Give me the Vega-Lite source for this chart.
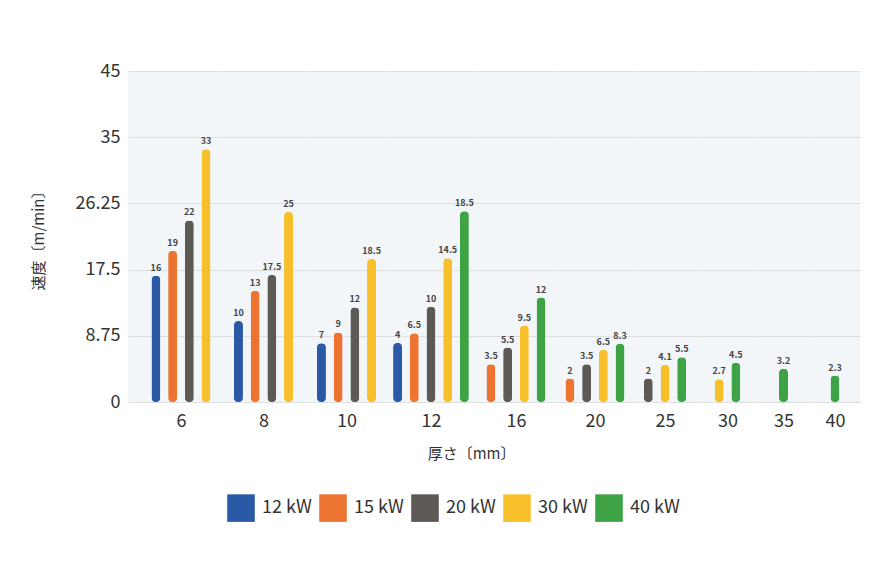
{
  "$schema": "https://vega.github.io/schema/vega-lite/v6.json",
  "background": "white",
  "padding": {"left": 31, "top": 62, "right": 20, "bottom": 20},
  "datasets": {
    "d": [
      {"t": "6", "p": "12 kW", "v": 16.7, "label": "16"},
      {"t": "6", "p": "15 kW", "v": 20.0, "label": "19"},
      {"t": "6", "p": "20 kW", "v": 24.0, "label": "22"},
      {"t": "6", "p": "30 kW", "v": 33.4, "label": "33"},
      {"t": "8", "p": "12 kW", "v": 10.7, "label": "10"},
      {"t": "8", "p": "15 kW", "v": 14.7, "label": "13"},
      {"t": "8", "p": "20 kW", "v": 16.8, "label": "17.5"},
      {"t": "8", "p": "30 kW", "v": 25.1, "label": "25"},
      {"t": "10", "p": "12 kW", "v": 7.75, "label": "7"},
      {"t": "10", "p": "15 kW", "v": 9.2, "label": "9"},
      {"t": "10", "p": "20 kW", "v": 12.5, "label": "12"},
      {"t": "10", "p": "30 kW", "v": 18.9, "label": "18.5"},
      {"t": "12", "p": "12 kW", "v": 7.8, "label": "4"},
      {"t": "12", "p": "15 kW", "v": 9.1, "label": "6.5"},
      {"t": "12", "p": "20 kW", "v": 12.6, "label": "10"},
      {"t": "12", "p": "30 kW", "v": 19.0, "label": "14.5"},
      {"t": "12", "p": "40 kW", "v": 25.2, "label": "18.5"},
      {"t": "16", "p": "15 kW", "v": 5.0, "label": "3.5"},
      {"t": "16", "p": "20 kW", "v": 7.2, "label": "5.5"},
      {"t": "16", "p": "30 kW", "v": 10.1, "label": "9.5"},
      {"t": "16", "p": "40 kW", "v": 13.8, "label": "12"},
      {"t": "20", "p": "15 kW", "v": 3.1, "label": "2"},
      {"t": "20", "p": "20 kW", "v": 5.0, "label": "3.5"},
      {"t": "20", "p": "30 kW", "v": 6.9, "label": "6.5"},
      {"t": "20", "p": "40 kW", "v": 7.7, "label": "8.3"},
      {"t": "25", "p": "20 kW", "v": 3.1, "label": "2"},
      {"t": "25", "p": "30 kW", "v": 4.9, "label": "4.1"},
      {"t": "25", "p": "40 kW", "v": 5.9, "label": "5.5"},
      {"t": "30", "p": "30 kW", "v": 3.0, "label": "2.7"},
      {"t": "30", "p": "40 kW", "v": 5.2, "label": "4.5"},
      {"t": "35", "p": "40 kW", "v": 4.4, "label": "3.2"},
      {"t": "40", "p": "40 kW", "v": 3.5, "label": "2.3"}
    ]
  },
  "data": {"name": "d"},
  "config": {
    "font": "Noto Sans CJK JP",
    "view": {"fill": "#f3f6f8", "stroke": null},
    "concat": {"spacing": 0},
    "axisY": {"grid": true, "gridColor": "#dcdedf", "domain": false, "ticks": false, "labelFontSize": 18, "labelColor": "#333333", "labelPadding": 8},
    "axisX": {"grid": false, "domain": false, "ticks": false, "labels": false, "titleFontSize": 18, "titleFontWeight": "normal", "titleColor": "#333333", "titlePadding": 10},
    "bar": {"width": 9, "cornerRadius": 4},
    "text": {"fontSize": 9, "fontWeight": "bold", "color": "#444444", "baseline": "bottom", "dy": -3},
    "legend": {"orient": "none", "direction": "horizontal", "legendX": 99, "legendY": 423, "symbolType": "square", "symbolSize": 760, "symbolStrokeWidth": 0, "labelFontSize": 18, "labelColor": "#333333", "labelOffset": 7, "columnPadding": 7, "title": null}
  },
  "vconcat": [
    {
      "title": {"text": "厚さ〔mm〕", "orient": "bottom", "anchor": "middle", "dx": 26, "fontSize": 15, "fontWeight": "normal", "color": "#333333", "offset": 17},
      "spacing": 0,
      "hconcat": [
        {
          "width": 94, "height": 331,
          "transform": [{"filter": "datum.t == '6'"}],
          "encoding": {
            "x": {"field": "p", "type": "nominal", "scale": {"paddingInner": 0, "paddingOuter": 0.814, "align": 0.72}, "axis": {"title": "6", "titleX": 53}},
            "y": {"field": "v", "type": "quantitative", "scale": {"domain": [0, 43.75]}, "axis": {"values": [0, 8.75, 17.5, 26.25, 35, 43.75], "labelExpr": "datum.value > 40 ? '45' : '' + datum.value", "title": "速度〔m/min〕", "titleFontSize": 15, "titleFontWeight": "normal", "titleColor": "#333333", "titlePadding": 29}}
          },
          "layer": [
            {"mark": "bar", "encoding": {"color": {"field": "p", "type": "nominal", "scale": {"domain": ["12 kW", "15 kW", "20 kW", "30 kW", "40 kW"], "range": ["#2a5aa6", "#ec7430", "#5d5954", "#f7bf2a", "#3da345"]}}}},
            {"mark": "text", "encoding": {"text": {"field": "label"}}}
          ]
        },
        {
          "width": 83, "height": 331,
          "transform": [{"filter": "datum.t == '8'"}],
          "encoding": {
            "x": {"field": "p", "type": "nominal", "scale": {"paddingInner": 0, "paddingOuter": 0.485}, "axis": {"title": "8"}},
            "y": {"field": "v", "type": "quantitative", "scale": {"domain": [0, 43.75]}, "axis": {"values": [0, 8.75, 17.5, 26.25, 35, 43.75], "labels": false, "title": null}}
          },
          "layer": [
            {"mark": "bar", "encoding": {"color": {"field": "p", "type": "nominal", "scale": {"domain": ["12 kW", "15 kW", "20 kW", "30 kW", "40 kW"], "range": ["#2a5aa6", "#ec7430", "#5d5954", "#f7bf2a", "#3da345"]}}}},
            {"mark": "text", "encoding": {"text": {"field": "label"}}}
          ]
        },
        {
          "width": 83, "height": 331,
          "transform": [{"filter": "datum.t == '10'"}],
          "encoding": {
            "x": {"field": "p", "type": "nominal", "scale": {"paddingInner": 0, "paddingOuter": 0.485}, "axis": {"title": "10"}},
            "y": {"field": "v", "type": "quantitative", "scale": {"domain": [0, 43.75]}, "axis": {"values": [0, 8.75, 17.5, 26.25, 35, 43.75], "labels": false, "title": null}}
          },
          "layer": [
            {"mark": "bar", "encoding": {"color": {"field": "p", "type": "nominal", "scale": {"domain": ["12 kW", "15 kW", "20 kW", "30 kW", "40 kW"], "range": ["#2a5aa6", "#ec7430", "#5d5954", "#f7bf2a", "#3da345"]}}}},
            {"mark": "text", "encoding": {"text": {"field": "label"}}}
          ]
        },
        {
          "width": 86, "height": 331,
          "transform": [{"filter": "datum.t == '12'"}],
          "encoding": {
            "x": {"field": "p", "type": "nominal", "scale": {"paddingInner": 0, "paddingOuter": 0.075}, "axis": {"title": "12"}},
            "y": {"field": "v", "type": "quantitative", "scale": {"domain": [0, 43.75]}, "axis": {"values": [0, 8.75, 17.5, 26.25, 35, 43.75], "labels": false, "title": null}}
          },
          "layer": [
            {"mark": "bar", "encoding": {"color": {"field": "p", "type": "nominal", "scale": {"domain": ["12 kW", "15 kW", "20 kW", "30 kW", "40 kW"], "range": ["#2a5aa6", "#ec7430", "#5d5954", "#f7bf2a", "#3da345"]}}}},
            {"mark": "text", "encoding": {"text": {"field": "label"}}}
          ]
        },
        {
          "width": 84, "height": 331,
          "transform": [{"filter": "datum.t == '16'"}],
          "encoding": {
            "x": {"field": "p", "type": "nominal", "scale": {"paddingInner": 0, "paddingOuter": 0.515}, "axis": {"title": "16"}},
            "y": {"field": "v", "type": "quantitative", "scale": {"domain": [0, 43.75]}, "axis": {"values": [0, 8.75, 17.5, 26.25, 35, 43.75], "labels": false, "title": null}}
          },
          "layer": [
            {"mark": "bar", "encoding": {"color": {"field": "p", "type": "nominal", "scale": {"domain": ["12 kW", "15 kW", "20 kW", "30 kW", "40 kW"], "range": ["#2a5aa6", "#ec7430", "#5d5954", "#f7bf2a", "#3da345"]}}}},
            {"mark": "text", "encoding": {"text": {"field": "label"}}}
          ]
        },
        {
          "width": 74, "height": 331,
          "transform": [{"filter": "datum.t == '20'"}],
          "encoding": {
            "x": {"field": "p", "type": "nominal", "scale": {"paddingInner": 0, "paddingOuter": 0.216}, "axis": {"title": "20"}},
            "y": {"field": "v", "type": "quantitative", "scale": {"domain": [0, 43.75]}, "axis": {"values": [0, 8.75, 17.5, 26.25, 35, 43.75], "labels": false, "title": null}}
          },
          "layer": [
            {"mark": "bar", "encoding": {"color": {"field": "p", "type": "nominal", "scale": {"domain": ["12 kW", "15 kW", "20 kW", "30 kW", "40 kW"], "range": ["#2a5aa6", "#ec7430", "#5d5954", "#f7bf2a", "#3da345"]}}}},
            {"mark": "text", "encoding": {"text": {"field": "label"}}}
          ]
        },
        {
          "width": 66, "height": 331,
          "transform": [{"filter": "datum.t == '25'"}],
          "encoding": {
            "x": {"field": "p", "type": "nominal", "scale": {"paddingInner": 0, "paddingOuter": 0.476}, "axis": {"title": "25"}},
            "y": {"field": "v", "type": "quantitative", "scale": {"domain": [0, 43.75]}, "axis": {"values": [0, 8.75, 17.5, 26.25, 35, 43.75], "labels": false, "title": null}}
          },
          "layer": [
            {"mark": "bar", "encoding": {"color": {"field": "p", "type": "nominal", "scale": {"domain": ["12 kW", "15 kW", "20 kW", "30 kW", "40 kW"], "range": ["#2a5aa6", "#ec7430", "#5d5954", "#f7bf2a", "#3da345"]}}}},
            {"mark": "text", "encoding": {"text": {"field": "label"}}}
          ]
        },
        {
          "width": 59, "height": 331,
          "transform": [{"filter": "datum.t == '30'"}],
          "encoding": {
            "x": {"field": "p", "type": "nominal", "scale": {"paddingInner": 0, "paddingOuter": 0.766}, "axis": {"title": "30"}},
            "y": {"field": "v", "type": "quantitative", "scale": {"domain": [0, 43.75]}, "axis": {"values": [0, 8.75, 17.5, 26.25, 35, 43.75], "labels": false, "title": null}}
          },
          "layer": [
            {"mark": "bar", "encoding": {"color": {"field": "p", "type": "nominal", "scale": {"domain": ["12 kW", "15 kW", "20 kW", "30 kW", "40 kW"], "range": ["#2a5aa6", "#ec7430", "#5d5954", "#f7bf2a", "#3da345"]}}}},
            {"mark": "text", "encoding": {"text": {"field": "label"}}}
          ]
        },
        {
          "width": 53, "height": 331,
          "transform": [{"filter": "datum.t == '35'"}],
          "encoding": {
            "x": {"field": "p", "type": "nominal", "scale": {"paddingInner": 0, "paddingOuter": 1.087}, "axis": {"title": "35"}},
            "y": {"field": "v", "type": "quantitative", "scale": {"domain": [0, 43.75]}, "axis": {"values": [0, 8.75, 17.5, 26.25, 35, 43.75], "labels": false, "title": null}}
          },
          "layer": [
            {"mark": "bar", "encoding": {"color": {"field": "p", "type": "nominal", "scale": {"domain": ["12 kW", "15 kW", "20 kW", "30 kW", "40 kW"], "range": ["#2a5aa6", "#ec7430", "#5d5954", "#f7bf2a", "#3da345"]}}}},
            {"mark": "text", "encoding": {"text": {"field": "label"}}}
          ]
        },
        {
          "width": 50, "height": 331,
          "transform": [{"filter": "datum.t == '40'"}],
          "encoding": {
            "x": {"field": "p", "type": "nominal", "scale": {"paddingInner": 0, "paddingOuter": 0.997}, "axis": {"title": "40"}},
            "y": {"field": "v", "type": "quantitative", "scale": {"domain": [0, 43.75]}, "axis": {"values": [0, 8.75, 17.5, 26.25, 35, 43.75], "labels": false, "title": null}}
          },
          "layer": [
            {"mark": "bar", "encoding": {"color": {"field": "p", "type": "nominal", "scale": {"domain": ["12 kW", "15 kW", "20 kW", "30 kW", "40 kW"], "range": ["#2a5aa6", "#ec7430", "#5d5954", "#f7bf2a", "#3da345"]}}}},
            {"mark": "text", "encoding": {"text": {"field": "label"}}}
          ]
        }
      ]
    }
  ]
}
